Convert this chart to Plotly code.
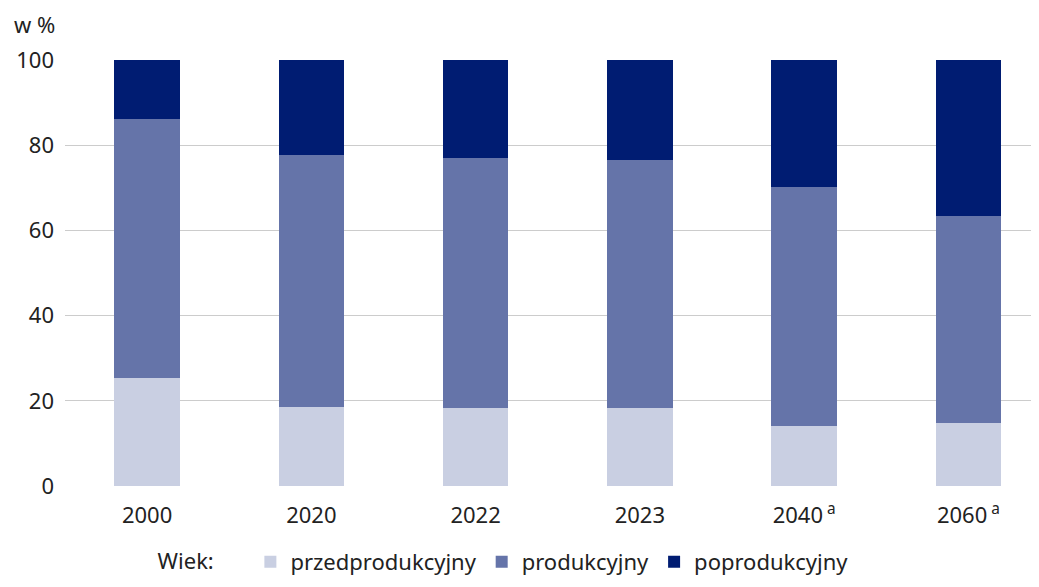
import plotly.graph_objects as go

years = ["2000", "2020", "2022", "2023", "2040<sup> a</sup>", "2060<sup> a</sup>"]
przedprodukcyjny = [25.3, 18.5, 18.4, 18.2, 14.2, 14.7]
produkcyjny = [60.9, 59.2, 58.6, 58.3, 56.0, 48.7]
poprodukcyjny = [13.8, 22.3, 23.0, 23.5, 29.8, 36.6]

names = ["przedprodukcyjny", "produkcyjny", "poprodukcyjny"]
colors = ["#C9CFE2", "#6574A9", "#001C72"]
series = [przedprodukcyjny, produkcyjny, poprodukcyjny]

fig = go.Figure()
for n, c, s in zip(names, colors, series):
    fig.add_trace(go.Bar(x=list(range(len(years))), y=s, name=n, marker_color=c,
                         marker_line_width=0, width=0.40))

font = "Noto Sans"
fig.update_layout(
    barmode="stack",
    width=1031, height=579,
    margin=dict(l=57, r=0, t=52, b=101),
    plot_bgcolor="white", paper_bgcolor="white",
    font=dict(family=font, size=22, color="#222222"),
    xaxis=dict(tickmode="array", tickvals=list(range(len(years))), ticktext=years,
               range=[-0.5, 5.43], showgrid=False, zeroline=False, showline=False,
               ticks="", ticklabelstandoff=14, tickfont=dict(size=22)),
    yaxis=dict(range=[0, 100], tickvals=[0, 20, 40, 60, 80, 100], showgrid=True,
               gridcolor="#CCCCCC", gridwidth=1, zeroline=False, showline=False,
               ticks="", ticklabelstandoff=10, tickfont=dict(size=22)),
    legend=dict(orientation="h", x=0.093, xanchor="left", y=-0.178, yanchor="middle",
                title=dict(text="Wiek:     ", font=dict(size=22)),
                font=dict(size=22), traceorder="normal", itemwidth=30),
    showlegend=True,
    annotations=[dict(text="w %", x=-0.053, y=1.122, xref="paper", yref="paper",
                      xanchor="left", yanchor="top", showarrow=False,
                      font=dict(size=22), borderpad=0)],
)

fig.write_html("out.html")
